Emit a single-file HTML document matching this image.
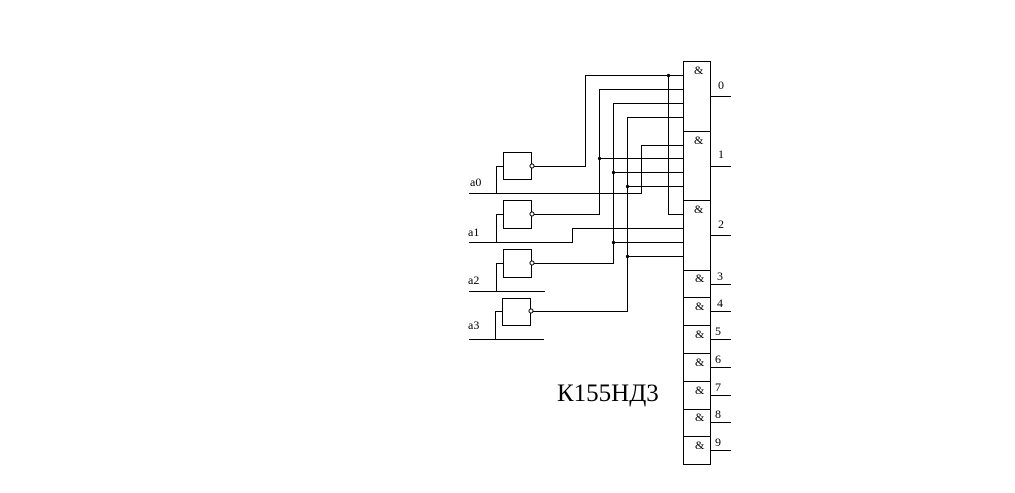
<!DOCTYPE html>
<html><head><meta charset="utf-8"><style>
html,body{margin:0;padding:0;background:#fff;}
svg{display:block;}
text{font-family:"Liberation Serif","DejaVu Serif",serif;fill:#000;}
</style></head><body>
<svg width="1015" height="493" viewBox="0 0 1015 493" xmlns="http://www.w3.org/2000/svg">
<g stroke="#000" stroke-width="1" fill="none" shape-rendering="crispEdges">
<rect x="683.5" y="61.5" width="27" height="70"/>
<rect x="683.5" y="131.5" width="27" height="69"/>
<rect x="683.5" y="200.5" width="27" height="70"/>
<rect x="683.5" y="270.5" width="27" height="27"/>
<rect x="683.5" y="297.5" width="27" height="28"/>
<rect x="683.5" y="325.5" width="27" height="28"/>
<rect x="683.5" y="353.5" width="27" height="28"/>
<rect x="683.5" y="381.5" width="27" height="28"/>
<rect x="683.5" y="409.5" width="27" height="27"/>
<rect x="683.5" y="436.5" width="27" height="28"/>
<path d="M710 96.5H731M710 166.5H731M710 235.5H731M710 284.5H731M710 311.5H731M710 339.5H731M710 367.5H731M710 395.5H731M710 422.5H731M710 450.5H731"/>
<rect x="503.5" y="152.5" width="28" height="27"/>
<rect x="503.5" y="200.5" width="28" height="28"/>
<rect x="503.5" y="249.5" width="28" height="28"/>
<rect x="502.5" y="298.5" width="28" height="27"/>
<path d="M469 193.5H641.5V145.5H683"/>
<path d="M496.5 193V166.5H503"/>
<path d="M469 242.5H572.5V228.5H683"/>
<path d="M496.5 242V214.5H503"/>
<path d="M469 291.5H545"/>
<path d="M496.5 291V263.5H503"/>
<path d="M469 339.5H544"/>
<path d="M495.5 339V311.5H502"/>
<path d="M532 166.5H585.5V75.5H683"/>
<path d="M668.5 75.5V214.5H683"/>
<path d="M532 214.5H599.5V89.5H683"/>
<path d="M599.5 158.5H683"/>
<path d="M532 263.5H613.5V103.5H683"/>
<path d="M613.5 172.5H683M613.5 242.5H683"/>
<path d="M531 311.5H627.5V117.5H683"/>
<path d="M627.5 186.5H683M627.5 256.5H683"/>
</g>
<g fill="#fff" stroke="#000" stroke-width="1">
<circle cx="532" cy="166" r="2"/><circle cx="532" cy="214" r="2"/>
<circle cx="532" cy="263" r="2"/><circle cx="531" cy="311" r="2"/>
</g>
<g fill="#000">
<circle cx="668.5" cy="75.5" r="1.6"/><circle cx="599.5" cy="158.5" r="1.6"/>
<circle cx="613.5" cy="172.5" r="1.6"/><circle cx="627.5" cy="186.5" r="1.6"/>
<circle cx="613.5" cy="242.5" r="1.6"/><circle cx="627.5" cy="256.5" r="1.6"/>
</g>
<g font-size="12">
<text x="694" y="74">&amp;</text><text x="694" y="144">&amp;</text><text x="694" y="213">&amp;</text>
<text x="695" y="282">&amp;</text><text x="695" y="310">&amp;</text><text x="695" y="338">&amp;</text>
<text x="695" y="366">&amp;</text><text x="695" y="394">&amp;</text><text x="695" y="421">&amp;</text>
<text x="695" y="449">&amp;</text>
<text x="718" y="89">0</text><text x="718" y="158">1</text><text x="718" y="228">2</text>
<text x="717" y="280">3</text><text x="717" y="307">4</text><text x="715" y="335">5</text>
<text x="715" y="363">6</text><text x="715" y="391">7</text><text x="715" y="418">8</text>
<text x="715" y="446">9</text>
<text x="470" y="186">a0</text><text x="468" y="236">a1</text>
<text x="468" y="284">a2</text><text x="468" y="329">a3</text>
</g>
<text x="557" y="401" font-size="25">К155НД3</text>
</svg>
</body></html>
